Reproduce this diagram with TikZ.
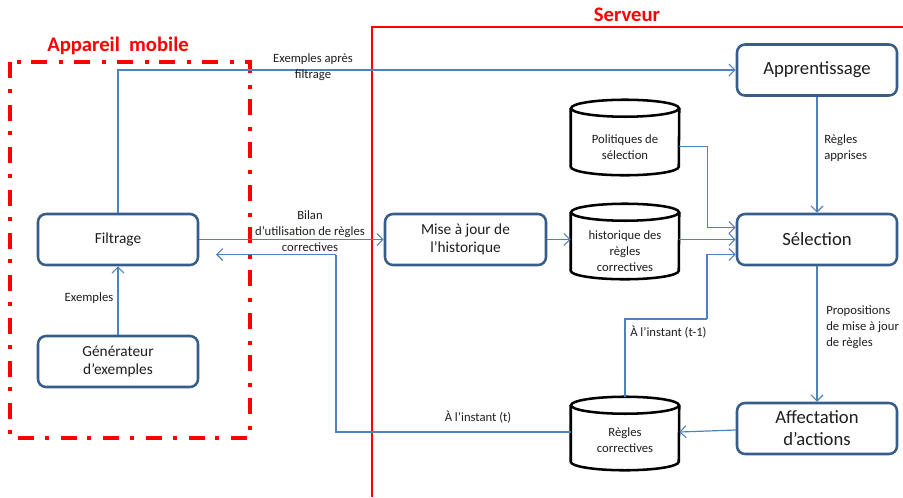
\documentclass[tikz,border=0pt]{standalone}
\usepackage{fontspec}
\setmainfont{Carlito}
\usetikzlibrary{calc,arrows.meta}

\definecolor{boxline}{RGB}{56,93,138}
\definecolor{conn}{RGB}{79,129,189}
\definecolor{txt}{RGB}{30,30,30}

\tikzset{
  procbox/.style={draw=boxline, line width=1.9pt, rounded corners=6pt, fill=white,
    text=txt, align=center, inner sep=0pt, minimum width=#1*0.75pt, minimum height=38.25pt},
  bigtxt/.style={font=\fontsize{14}{16.5}\selectfont},
  midtxt/.style={font=\fontsize{11.5}{14}\selectfont},
  smalltxt/.style={font=\fontsize{9.5}{12}\selectfont, text=txt, align=center, inner sep=0pt},
  cylarea/.style={draw=none, inner sep=0pt, minimum width=81pt, minimum height=#1*0.75pt},
  cylline/.style={draw=black, line width=1.9pt, fill=white},
  link/.style={draw=conn, line width=0.9pt, -{Straight Barb[length=4.5pt,width=9pt,line width=0.8pt]}},
  plainlink/.style={draw=conn, line width=0.9pt},
  redlabel/.style={text=red, font=\fontsize{15.5}{18}\selectfont\bfseries, inner sep=0pt}
}

% cylinder outline around a named area node
\newcommand\storecyl[1]{%
  \draw[cylline] ($(#1.north west)+(0,8.5)$) -- ($(#1.south west)+(0,-8.5)$)
     arc[start angle=180, end angle=0, x radius=54, y radius=8.5]
     -- ($(#1.north east)+(0,8.5)$);
  \draw[cylline] ($(#1.north)+(0,8.5)$) ellipse[x radius=54, y radius=8.5];
}

\begin{document}
\begin{tikzpicture}[x=0.75pt, y=-0.75pt]
  \useasboundingbox (0,0) rectangle (903,497);

  % frames
  \draw[red, line width=2.6pt, dash pattern=on 12 off 8 on 3 off 9]
    (10,62) rectangle (250,438);
  \draw[red, line width=2.2pt] (372,497) -- (372,27) -- (903,27);
  \node[redlabel] (mobile) at (118,46) {Appareil\ \ mobile};
  \node[redlabel] (serveur) at (627,15) {Serveur};

  % process boxes
  \node[procbox=160, midtxt] (filt) at (118,239.5) {Filtrage};
  \node[procbox=160, midtxt] (gen) at (118,361.5) {Générateur\\d’exemples};
  \node[procbox=161, midtxt] (maj) at (465.5,239.5) {Mise à jour de\\l’historique};
  \node[procbox=160, bigtxt] (app) at (817,70) {Apprentissage};
  \node[procbox=160, bigtxt] (sel) at (817,239.5) {Sélection};
  \node[procbox=160, bigtxt] (aff) at (817,428.5) {Affectation\\d’actions};

  % data stores
  \node[cylarea=75] (pol) at (625,137.5) {};
  \node[cylarea=75] (hist) at (625,241.5) {};
  \node[cylarea=73] (rc) at (625,433.5) {};
  \storecyl{pol}
  \storecyl{hist}
  \storecyl{rc}
  \node[smalltxt] (poltxt) at (625,147.5) {Politiques de\\sélection};
  \node[smalltxt] (histtxt) at (625,251) {historique des\\règles\\correctives};
  \node[smalltxt] (rctxt) at (625,440) {Règles\\correctives};

  % bends
  \coordinate (k1) at (707,319);
  \coordinate (k2) at (336,254.5);
  \coordinate (k3) at (216,254.5);

  % connectors
  \draw[link] (gen.north) -- (filt.south);
  \draw[link] (filt.north) |- (app.west);
  \draw[link] (app.south) -- (sel.north);
  \draw[link] ($(pol.east)+(0,9)$) -- ++(28,0) |- ($(sel.west)+(0,-12)$);
  \draw[link] (hist.east |- sel.west) -- (sel.west);
  \draw[link] (maj.east) -- (maj.east -| hist.west);
  \draw[link] (filt.east) -- (maj.west);
  \draw[plainlink] (rc.north) |- (k1);
  \draw[link] (k1) |- ($(sel.west)+(0,15)$);
  \draw[link] (sel.south) -- (aff.north);
  \draw[link] ($(aff.west)+(0,1.5)$) -- ($(rc.east)+(0,-1.5)$);
  \draw[plainlink] ($(rc.west)+(0,-1.5)$) -| (k2);
  \draw[link] (k2) -- (k3);

  % connector labels
  \node[smalltxt] (lex) at (89,298) {Exemples};
  \node[smalltxt] (lexf) at (313,67) {Exemples après\\filtrage};
  \node[smalltxt] (lbil) at (310,231) {Bilan\\d’utilisation de règles\\correctives};
  \node[smalltxt, align=left, anchor=west] (lreg) at (824,148) {Règles\\apprises};
  \node[smalltxt, align=left, anchor=west] (lprop) at (826,327) {Propositions\\de mise à jour\\de règles};
  \node[smalltxt, anchor=west] (lt1) at (630,332) {À l’instant (t-1)};
  \node[smalltxt] (lt) at (478,417) {À l’instant (t)};
\end{tikzpicture}
\end{document}
